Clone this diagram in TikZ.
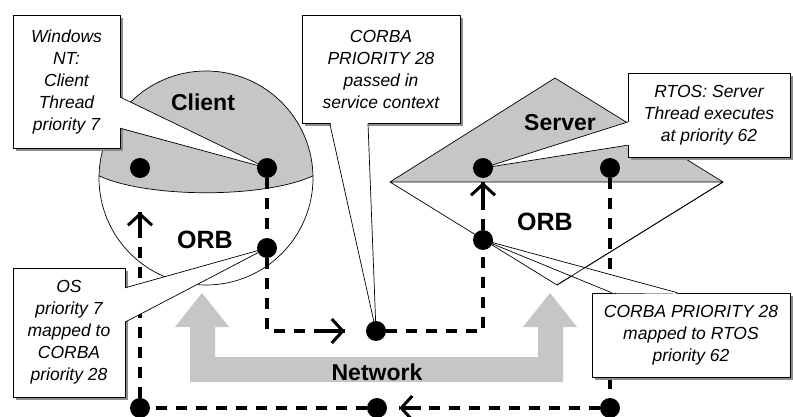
\documentclass[tikz,border=0pt]{standalone}
\usepackage{fontspec}
\setmainfont{Liberation Sans}
\usetikzlibrary{calc,arrows.meta,shadows}
\pgfdeclarelayer{front}
\pgfsetlayers{main,front}
\definecolor{panelgray}{RGB}{198,198,198}

\tikzset{
  dot/.style={circle,fill=black,inner sep=0pt,minimum size=20pt},
  flow/.style={line width=3.4pt,dash pattern=on 11pt off 9pt},
  tipline/.style={line width=3.4pt,-{Straight Barb[length=11pt,width=24pt,line width=3pt]}},
  partname/.style={font=\fontsize{23}{25}\selectfont\bfseries},
  callout/.style={draw,fill=white,line width=0.7pt,align=center,inner sep=1pt,
    font=\fontsize{17.5}{22}\selectfont\itshape,
    drop shadow={shadow xshift=3pt,shadow yshift=-3pt,fill=black!45,opacity=1}},
  pointer/.style={line width=0.7pt}
}

\begin{document}
\begin{tikzpicture}[x=1pt,y=-1pt]
  \useasboundingbox (0,0) rectangle (793,417);

  % thread and ORB points
  \begin{pgfonlayer}{front}
    \node[dot] (cin) at (140,168) {};
    \node[dot] (cthread) at (267,168) {};
    \node[dot] (corb) at (267,248) {};
    \node[dot] (net) at (376,331) {};
    \node[dot] (sthread) at (483,168) {};
    \node[dot] (sthread2) at (610,168) {};
    \node[dot] (sorb) at (483,240) {};
    \node[dot] (bl) at (140,408) {};
    \node[dot] (bm) at (377,408) {};
    \node[dot] (br) at (610,408) {};
  \end{pgfonlayer}

  % client
  \begin{scope}
    \clip (206,178) circle (107pt);
    \fill[panelgray] (90,171) .. controls (135,200) and (277,200) .. (322,171) -- (322,60) -- (90,60) -- cycle;
    \draw[pointer] (90,171) .. controls (135,200) and (277,200) .. (322,171);
  \end{scope}
  \draw[pointer] (206,178) circle (107pt);

  % server
  \fill[white] (390,182) -- (555,78) -- (723,182) -- (557,285) -- cycle;
  \fill[panelgray] (390,182) -- (555,78) -- (723,182) -- cycle;
  \draw[pointer] (390,182) -- (555,78) -- (723,182) -- (557,285) -- cycle (390,182) -- (723,182);

  % network
  \fill[panelgray] (190,382) -- (563,382) -- (563,327) -- (577,327) -- (550,293) -- (523,327)
    -- (538,327) -- (538,357) -- (215,357) -- (215,327) -- (229,327) -- (202,293)
    -- (175,327) -- (190,327) -- cycle;

  \draw[flow] (cthread) -- (corb);
  \draw[flow,shorten >=21pt] (corb) |- (net);
  \draw[tipline] ([xshift=-50pt]net.west) -- ([xshift=-21pt]net.west);
  \draw[flow] (net) -| (sorb);
  \draw[flow,shorten >=4pt] (sorb) -- (sthread);
  \draw[tipline] ([yshift=-26pt]sthread.south) -- ([yshift=-4pt]sthread.south);
  \draw[flow] (sthread2) -- (br);
  \draw[flow,shorten >=12pt] (br) -- (bm);
  \draw[tipline] ([xshift=34pt]bm.east) -- ([xshift=12pt]bm.east);
  \draw[flow] (bm) -- (bl);
  \draw[flow,shorten >=34pt] (bl) -- (cin);
  \draw[tipline] ([yshift=-60pt]cin.south) -- ([yshift=-34pt]cin.south);

  % callouts
  \node[callout,minimum width=107pt,minimum height=133pt] (ntbox) at (66.5,81.5)
    {Windows\\NT:\\Client\\Thread\\priority 7};
  \node[callout,minimum width=158pt,minimum height=108pt] (svcbox) at (381,69)
    {CORBA\\PRIORITY 28\\passed in\\service context};
  \node[callout,minimum width=162pt,minimum height=84pt] (rtosbox) at (709,115)
    {RTOS: Server\\Thread executes\\at priority 62};
  \node[callout,minimum width=112pt,minimum height=129pt] (osbox) at (69,332.5)
    {OS\\priority 7\\mapped to\\CORBA\\priority 28};
  \node[callout,minimum width=198pt,minimum height=84pt] (mapbox) at (691,335)
    {CORBA PRIORITY 28\\mapped to RTOS\\priority 62};

  \foreach \bx/\from/\to/\u/\v/\tip in {
    ntbox/north east/south east/.617/.85/cthread,
    svcbox/south west/south east/.177/.418/net,
    rtosbox/north west/south west/.583/.857/sthread,
    osbox/north east/south east/.155/.419/corb,
    mapbox/north west/north east/.10/.43/sorb}
  {
    \coordinate (p) at ($(\bx.\from)!\u!(\bx.\to)$);
    \coordinate (q) at ($(\bx.\from)!\v!(\bx.\to)$);
    \fill[white] ($(p)!1.2pt!(\bx.center)$) -- (\tip.center) -- ($(q)!1.2pt!(\bx.center)$) -- cycle;
    \draw[pointer] (p) -- (\tip.center) -- (q);
  }
  \draw[pointer] (557,285) -- (723,182);

  \node[partname] (clientname) at (203,102) {Client};
  \node[partname,font=\fontsize{25}{27}\selectfont\bfseries] (corbname) at (205,240) {ORB};
  \node[partname] (servername) at (560,123) {Server};
  \node[partname,font=\fontsize{25}{27}\selectfont\bfseries] (sorbname) at (545,222) {ORB};
  \node[partname] (netname) at (377,372) {Network};
\end{tikzpicture}
\end{document}
